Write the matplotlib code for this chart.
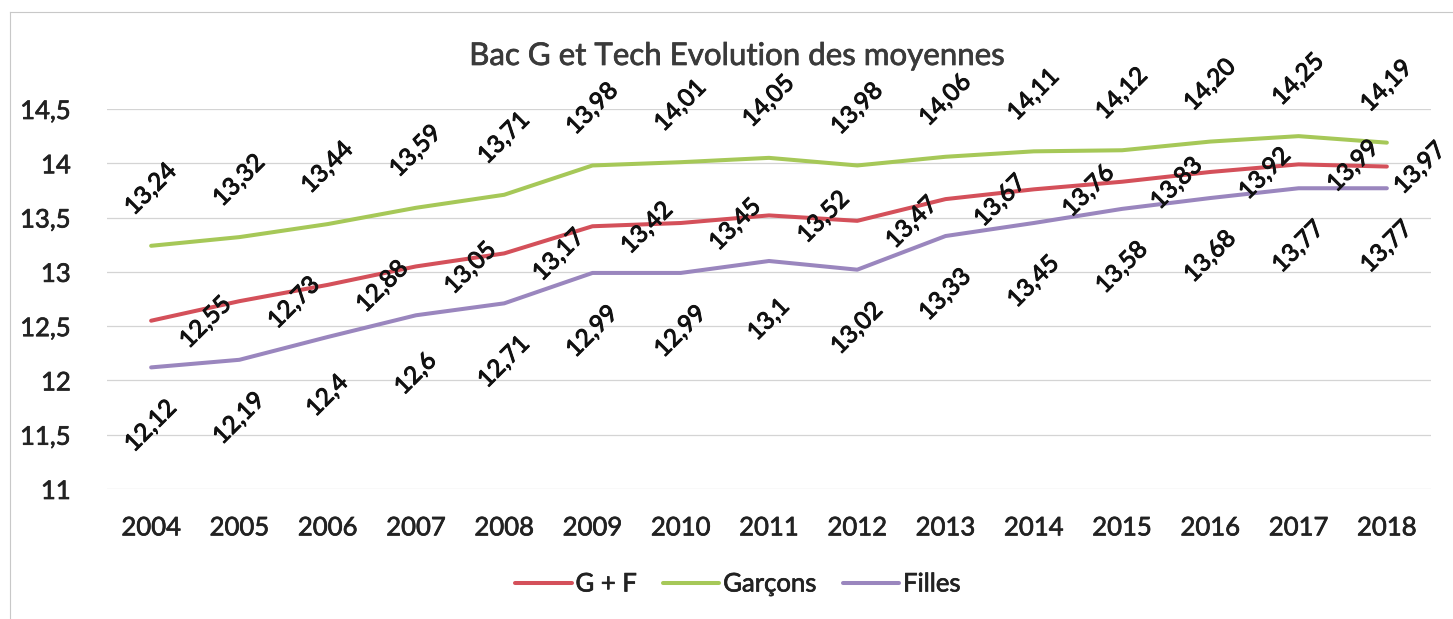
import matplotlib
matplotlib.use("Agg")
import matplotlib.pyplot as plt
import matplotlib.patheffects as pe
from matplotlib.lines import Line2D

plt.rcParams['font.family'] = ['Lato', 'DejaVu Sans']

# data
years = [2004, 2005, 2006, 2007, 2008, 2009, 2010, 2011, 2012, 2013, 2014, 2015, 2016, 2017, 2018]
g_plus_f = [12.55, 12.73, 12.88, 13.05, 13.17, 13.42, 13.45, 13.52, 13.47, 13.67, 13.76, 13.83, 13.92, 13.99, 13.97]
garcons = [13.24, 13.32, 13.44, 13.59, 13.71, 13.98, 14.01, 14.05, 13.98, 14.06, 14.11, 14.12, 14.20, 14.25, 14.19]
filles = [12.12, 12.19, 12.4, 12.6, 12.71, 12.99, 12.99, 13.1, 13.02, 13.33, 13.45, 13.58, 13.68, 13.77, 13.77]
y_ticks = [11, 11.5, 12, 12.5, 13, 13.5, 14, 14.5]

W, H = 1453, 619
fig = plt.figure(figsize=(W / 100, H / 100), dpi=100)
ax = fig.add_axes([107 / W, 1 - 489 / H, (1431 - 107) / W, (489 - 109) / H])

x = list(range(len(years)))

# slightly heavier strokes, the scanned Calibri text is quite dark
def heavy(col, lw=0.7):
    return [pe.withStroke(linewidth=lw, foreground=col)]

# (label, values, colour, label offset in points, label format)
series = [
    ('G + F', g_plus_f, '#d4505a', (39.5, -1.5), '{:.2f}'),
    ('Garçons', garcons, '#a6c858', (0, 40.5), '{:.2f}'),
    ('Filles', filles, '#9a86be', (0, -42.5), '{:g}'),
]

for name, vals, col, off, fmt in series:
    ax.plot(x, vals, color=col, lw=2.9, label=name, solid_capstyle='round', zorder=3)
    for xi, v in zip(x, vals):
        dx, dy = off
        if dx > 0 and xi == x[-1]:
            # Excel pushes the last right-hand label back inside the chart
            dx = 24
        ax.annotate(fmt.format(v).replace('.', ','), (xi, v), xytext=(dx, dy),
                    textcoords='offset points', rotation=45, rotation_mode='anchor',
                    ha='center', va='center', fontsize=17.5, color='#111111',
                    path_effects=heavy('#111111'), zorder=4)

ax.set_xlim(-0.5, len(years) - 0.5)
ax.set_ylim(11, 14.5)
ax.set_xticks(x)
ax.set_xticklabels([str(y) for y in years])
ax.set_yticks(y_ticks)
ax.set_yticklabels([f"{t:g}".replace('.', ',') for t in y_ticks])
ax.tick_params(axis='both', length=0, labelsize=18.5, labelcolor='#222222')
ax.tick_params(axis='x', pad=19)
ax.tick_params(axis='y', pad=26)
for lab in ax.get_xticklabels() + ax.get_yticklabels():
    lab.set_path_effects(heavy('#222222', 0.5))
ax.grid(axis='y', color='#d4d4d4', lw=0.9)
ax.set_axisbelow(True)
for s in ax.spines.values():
    s.set_visible(False)

fig.text(737 / W, 1 - 65 / H, 'Bac G et Tech Evolution des moyennes', ha='center',
         va='baseline', fontsize=22.5, color='#3a3a3a', path_effects=heavy('#3a3a3a', 0.5))

leg = fig.legend(loc='center', bbox_to_anchor=(738 / W, 1 - 584 / H), ncol=3, frameon=False,
                 fontsize=18.5, handlelength=2.2, handletextpad=0.15, columnspacing=1.0,
                 labelcolor='#222222')
for t in leg.get_texts():
    t.set_path_effects(heavy('#222222', 0.5))

# light chart border (left and top edges visible in the scan)
fig.add_artist(Line2D([10 / W, 10 / W], [0, 1 - 12 / H], color='#c8c8c8', lw=0.8))
fig.add_artist(Line2D([10 / W, 1], [1 - 12 / H, 1 - 12 / H], color='#c8c8c8', lw=0.8))

fig.savefig('out.png', dpi=100, facecolor='white')
